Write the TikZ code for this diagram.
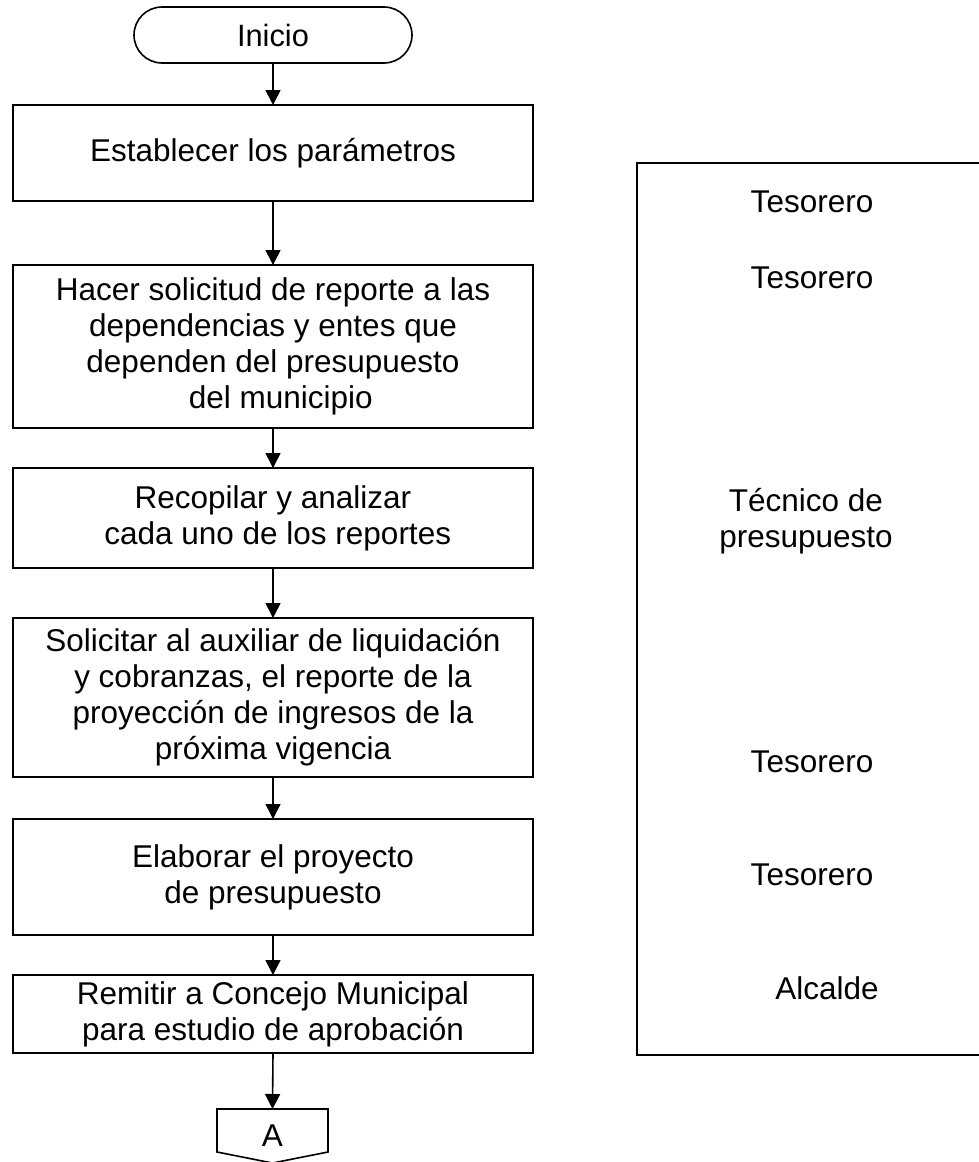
\documentclass[tikz,border=0pt]{standalone}
\usepackage{fontspec}
\setmainfont{Liberation Sans}
\usetikzlibrary{arrows.meta,shapes.misc}
\begin{document}
\begin{tikzpicture}[x=1pt,y=-1pt,
  every node/.style={font=\fontsize{31.5}{36}\selectfont, inner sep=0pt, outer sep=0pt},
  proc/.style={draw, line width=1.6pt, minimum width=520pt, align=center},
  flow/.style={line width=1.6pt, -{Triangle[width=15pt,length=15pt]}},
  role/.style={align=center}
]
\useasboundingbox (0,0) rectangle (978,1162);
% terminator
\node[draw, rounded rectangle, line width=1.6pt, minimum width=278pt, minimum height=56pt, font=\fontsize{30.8}{36}\selectfont] (start) at (273,35) {Inicio};
% process boxes
\node[proc, minimum height=96pt]  (b1) at (273,153)   {Establecer los parámetros};
\node[proc, minimum height=163pt] (b2) at (273,346.5) {Hacer solicitud de reporte a las\\dependencias y entes que\\dependen del presupuesto\\\hspace*{0.5em}del municipio};
\node[proc, minimum height=100pt] (b3) at (273,518)   {Recopilar y analizar\\\hspace*{0.3em}cada uno de los reportes};
\node[proc, minimum height=159pt] (b4) at (273,697.5) {Solicitar al auxiliar de liquidación\\y cobranzas, el reporte de la\\proyección de ingresos de la\\próxima vigencia};
\node[proc, minimum height=116pt] (b5) at (273,877)   {Elaborar el proyecto\\de presupuesto};
\node[proc, minimum height=78pt]  (b6) at (273,1014)  {Remitir a Concejo Municipal\\para estudio de aprobación};
% off-page connector
\coordinate (Atop) at (272.5,1109);
\draw[line width=1.6pt] (217,1109) -- (328,1109) -- (328,1152) -- (272.5,1163) -- (217,1152) -- cycle;
\node (A) at (272.5,1136) {A};
% connectors
\draw[flow] (start.south) -- (b1.north);
\draw[flow] (b1.south) -- (b2.north);
\draw[flow] (b2.south) -- (b3.north);
\draw[flow] (b3.south) -- (b4.north);
\draw[flow] (b4.south) -- (b5.north);
\draw[flow] (b5.south) -- (b6.north);
\draw[flow] (b6.south) -- (Atop);
% responsibility panel
\node[draw, line width=1.6pt, minimum width=353pt, minimum height=892pt] (panel) at (813.5,609) {};
\node[role] (r1) at (812,202) {Tesorero};
\node[role] (r2) at (812,278) {Tesorero};
\node[role] (r3) at (806,521) {Técnico de\\presupuesto};
\node[role] (r4) at (812,762) {Tesorero};
\node[role] (r5) at (812,875) {Tesorero};
\node[role] (r6) at (827,988) {Alcalde};
\end{tikzpicture}
\end{document}
